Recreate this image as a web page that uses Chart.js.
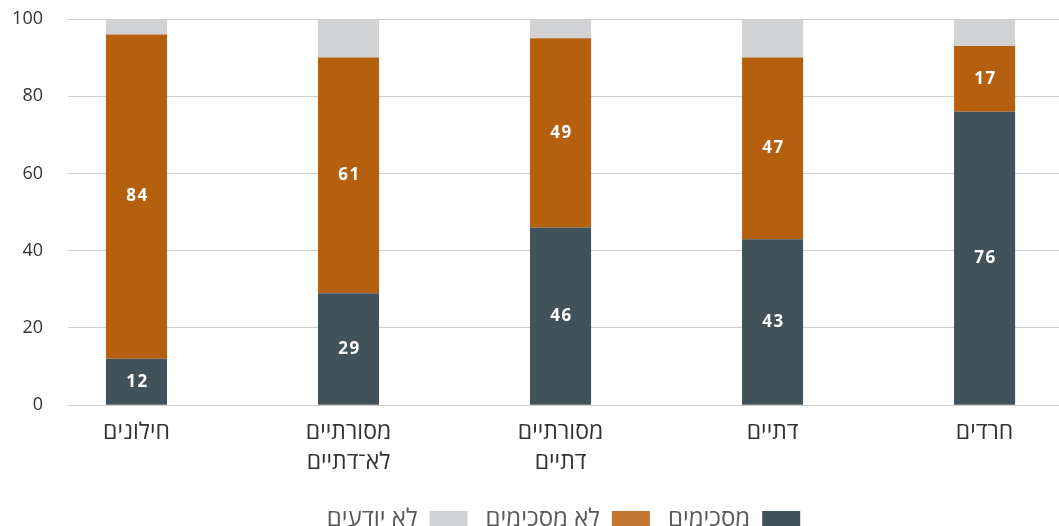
<!DOCTYPE html>
<html lang="he">
<head>
<meta charset="utf-8">
<script src="https://cdn.jsdelivr.net/npm/chart.js@4"></script>
<style>
  html, body { margin: 0; padding: 0; background: #fff; }
  #wrap { width: 1059px; height: 526px; position: relative; }
</style>
</head>
<body>
<div id="wrap"><canvas id="chart"></canvas></div>
<script>
// data
const categories = ['חילונים', ['מסורתיים', 'לא־דתיים'], ['מסורתיים', 'דתיים'], 'דתיים', 'חרדים'];
const agree = [12, 29, 46, 43, 76];
const disagree = [84, 61, 49, 47, 17];
const dontKnow = [4, 10, 5, 10, 7];
const seriesNames = ['מסכימים', 'לא מסכימים', 'לא יודעים'];
const yTicks = [0, 20, 40, 60, 80, 100];

const FONT = '"Open Sans", "Noto Sans", "DejaVu Sans", sans-serif';
const toPoints = (arr) => arr.map((v, i) => ({ x: i, y: v }));

// white value labels in the middle of the dark and orange segments
const valueLabels = {
    id: 'valueLabels',
    afterDatasetsDraw(chart) {
        const ctx = chart.ctx;
        ctx.save();
        ctx.fillStyle = '#ffffff';
        ctx.font = 'bold 17px ' + FONT;
        ctx.letterSpacing = '1.5px';
        ctx.textAlign = 'center';
        ctx.textBaseline = 'middle';
        [0, 1].forEach((di) => {
            const meta = chart.getDatasetMeta(di);
            meta.data.forEach((bar, i) => {
                const v = chart.data.datasets[di].data[i].y;
                ctx.fillText(String(v), bar.x + 1, (bar.y + bar.base) / 2);
            });
        });
        ctx.restore();
    }
};

new Chart(document.getElementById('chart'), {
    type: 'bar',
    data: {
        datasets: [
            { label: seriesNames[0], data: toPoints(agree), backgroundColor: '#41525b' },
            { label: seriesNames[1], data: toPoints(disagree), backgroundColor: '#b5600f' },
            { label: seriesNames[2], data: toPoints(dontKnow), backgroundColor: '#d1d2d4' }
        ]
    },
    options: {
        responsive: true,
        maintainAspectRatio: false,
        animation: false,
        layout: { padding: { top: 19, left: 0, right: 0, bottom: -15 } },
        datasets: {
            bar: { categoryPercentage: 1, barPercentage: 0.288 }
        },
        scales: {
            x: {
                type: 'linear',
                stacked: true,
                offset: false,
                min: -0.323,
                max: 4.351,
                afterBuildTicks: (s) => { s.ticks = categories.map((_, i) => ({ value: i })); },
                afterFit: (s) => { s.paddingLeft = 0; s.paddingRight = 0; s.height += 8; },
                grid: { display: false },
                border: { display: false },
                ticks: {
                    autoSkip: false,
                    maxRotation: 0,
                    padding: 4,
                    color: '#333',
                    font: { family: FONT, size: 23, lineHeight: 1.3 },
                    callback: (v) => categories[v]
                }
            },
            y: {
                stacked: true,
                min: 0,
                max: 100,
                afterBuildTicks: (s) => { s.ticks = yTicks.map((v) => ({ value: v })); },
                afterFit: (s) => { s.paddingTop = 0; s.paddingBottom = 0; s.width = 68; },
                grid: { color: '#cfcfcf', lineWidth: 1, drawTicks: false },
                border: { display: false },
                ticks: {
                    padding: 25,
                    color: '#333',
                    font: { family: FONT, size: 18 }
                }
            }
        },
        plugins: {
            tooltip: { enabled: false },
            legend: {
                position: 'bottom',
                fullSize: false,
                rtl: true,
                textDirection: 'rtl',
                labels: {
                    boxWidth: 38,
                    boxHeight: 16,
                    padding: 18,
                    color: '#595959',
                    font: { family: FONT, size: 24 },
                    generateLabels: (chart) => {
                        const items = Chart.defaults.plugins.legend.labels.generateLabels(chart);
                        items.forEach((it) => {
                            it.lineWidth = 0;
                            if (it.datasetIndex === 1) it.fillStyle = '#c37533';
                        });
                        return items;
                    }
                }
            }
        }
    },
    plugins: [valueLabels]
});
</script>
</body>
</html>
